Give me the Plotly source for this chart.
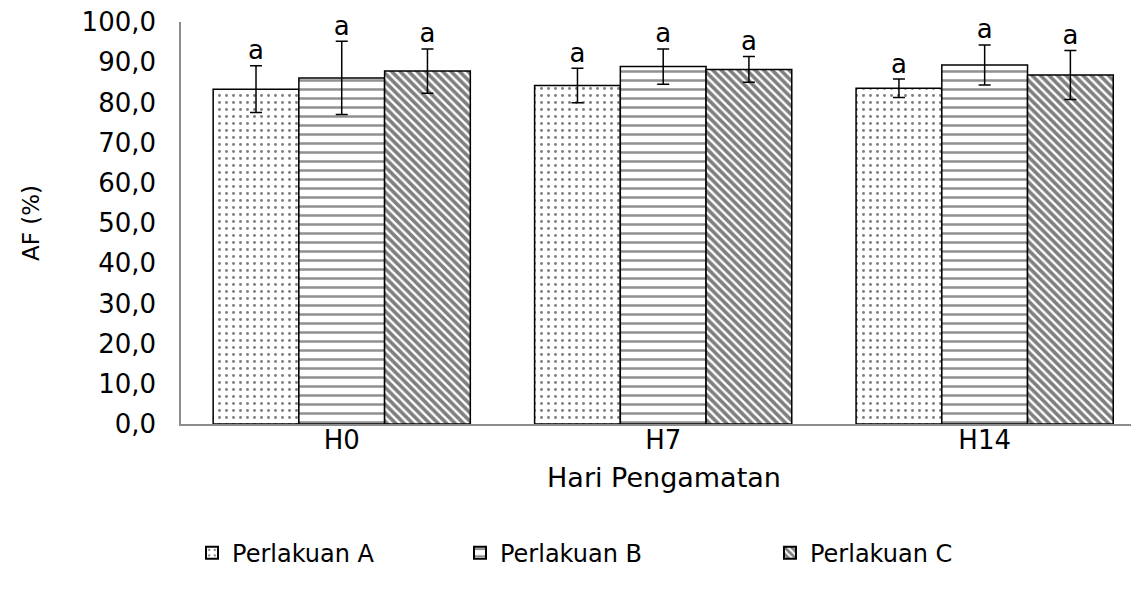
import plotly.graph_objects as go

categories = ["H0", "H7", "H14"]
series_names = ["Perlakuan A", "Perlakuan B", "Perlakuan C"]
values_A = [83.3, 84.2, 83.5]
values_B = [86.1, 88.9, 89.3]
values_C = [87.8, 88.2, 86.8]
err_A = [5.8, 4.3, 2.3]
err_B = [9.1, 4.4, 5.0]
err_C = [5.5, 3.2, 6.1]
letters_A = ["a", "a", "a"]
letters_B = ["a", "a", "a"]
letters_C = ["a", "a", "a"]
y_ticks = [0, 10, 20, 30, 40, 50, 60, 70, 80, 90, 100]

FONT = "DejaVu Sans"
FS = 24

patterns = [
    dict(shape=".", fgcolor="#000000", bgcolor="#ffffff", size=7, solidity=0.14, fillmode="overlay"),
    dict(shape="-", fgcolor="#222222", bgcolor="#ffffff", size=9, solidity=0.28, fillmode="overlay"),
    dict(shape="\\", fgcolor="#000000", bgcolor="#ffffff", size=6, solidity=0.6, fillmode="overlay"),
]

all_vals = [values_A, values_B, values_C]
all_errs = [err_A, err_B, err_C]
all_letters = [letters_A, letters_B, letters_C]
legend_ids = ["legend", "legend2", "legend3"]

fig = go.Figure()
for i, name in enumerate(series_names):
    fig.add_trace(go.Bar(
        x=categories, y=all_vals[i], name=name,
        offsetgroup=str(i),
        legend=legend_ids[i],
        marker=dict(color="#ffffff", pattern=patterns[i],
                    line=dict(color="#000000", width=1.5)),
        error_y=dict(type="data", array=all_errs[i], visible=True,
                     color="#000000", thickness=1.5, width=6),
    ))
for i, name in enumerate(series_names):
    tops = [v + e for v, e in zip(all_vals[i], all_errs[i])]
    fig.add_trace(go.Scatter(
        x=categories, y=tops, mode="text", text=all_letters[i],
        textposition="top center", offsetgroup=str(i),
        textfont=dict(family=FONT, size=26, color="#000000"),
        showlegend=False, hoverinfo="skip", cliponaxis=False,
    ))

legend_common = dict(orientation="h", yanchor="middle", xanchor="left",
                     font=dict(family=FONT, size=FS, color="#000000"),
                     bgcolor="rgba(0,0,0,0)", itemsizing="constant")

fig.update_layout(
    width=1139, height=601,
    margin=dict(l=173, r=0, t=14, b=185, autoexpand=False),
    paper_bgcolor="#ffffff", plot_bgcolor="#ffffff",
    barmode="group", bargap=0.2, bargroupgap=0.0,
    scattermode="group",
    separators=", ",
    font=dict(family=FONT, size=FS, color="#000000"),
    legend=dict(x=0.0114, y=-0.321, **legend_common),
    legend2=dict(x=0.2888, y=-0.321, **legend_common),
    legend3=dict(x=0.6097, y=-0.321, **legend_common),
    xaxis=dict(
        range=[-0.5, 2.505], showline=True, linecolor="#8c8c8c", linewidth=1.5,
        ticks="", showgrid=False, zeroline=False, ticklabelstandoff=-8,
        ticklabeloverflow="allow",
        tickfont=dict(family=FONT, size=26, color="#000000"),
        title=dict(text="Hari Pengamatan", standoff=14,
                   font=dict(family=FONT, size=27, color="#000000")),
    ),
    yaxis=dict(
        range=[0, 100], tickvals=y_ticks, tickformat=".1f",
        showline=True, linecolor="#8c8c8c", linewidth=1.5,
        ticks="", showgrid=False, zeroline=False, ticklabelstandoff=18,
        ticklabeloverflow="allow",
        tickfont=dict(family=FONT, size=26, color="#000000"),
        title=dict(text="AF (%)", standoff=36,
                   font=dict(family=FONT, size=23, color="#000000")),
    ),
)

fig.write_html("out.html")
